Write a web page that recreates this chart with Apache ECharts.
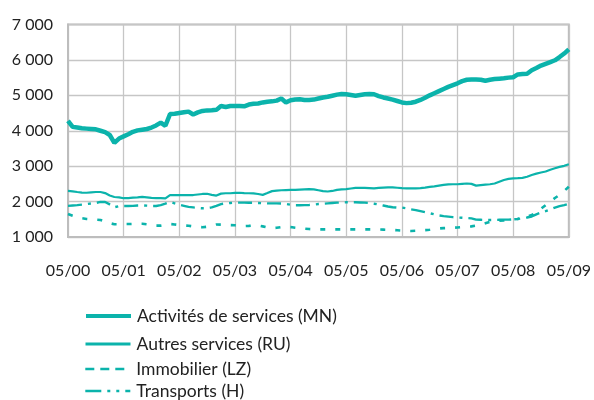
<!DOCTYPE html>
<html>
<head>
<meta charset="utf-8">
<script src="https://cdn.jsdelivr.net/npm/echarts@6/dist/echarts.min.js"></script>
<style>
  html, body { margin: 0; padding: 0; background: #fff; }
  #chart { width: 594px; height: 400px; }
</style>
</head>
<body>
<div id="chart"></div>
<script>
// Monthly observations, May 2000 to May 2009
const startYear = 2000, startMonth = 5, monthCount = 109;
const months = [];
for (let i = 0; i < monthCount; i++) {
  const m = (startMonth - 1 + i) % 12 + 1;
  const y = startYear + Math.floor((startMonth - 1 + i) / 12);
  months.push(String(m).padStart(2, '0') + '/' + String(y % 100).padStart(2, '0'));
}
const tickLabels = ['05/00','05/01','05/02','05/03','05/04','05/05','05/06','05/07','05/08','05/09'];

const seriesNames = [
  'Activités de services (MN)',
  'Autres services (RU)',
  'Immobilier (LZ)',
  'Transports (H)'
];

const activitesServices = [
  4280,4110,4090,4070,4060,4050,4040,4000,3960,3880,3660,3780,
  3840,3900,3970,4010,4030,4050,4090,4150,4230,4140,4470,4480,
  4500,4520,4540,4460,4520,4560,4575,4580,4590,4700,4670,4700,
  4700,4700,4690,4740,4760,4770,4800,4820,4830,4850,4910,4800,
  4860,4880,4890,4870,4870,4880,4910,4940,4960,4990,5020,5040,
  5030,5010,4990,5010,5030,5040,5030,4980,4940,4910,4880,4840,
  4800,4780,4790,4820,4870,4930,5000,5060,5120,5180,5240,5290,
  5340,5400,5440,5450,5450,5440,5410,5440,5460,5470,5480,5500,
  5510,5590,5600,5610,5710,5770,5840,5890,5940,5990,6080,6180,
  6300
];

const autresServices = [
  2300,2290,2270,2255,2250,2260,2270,2270,2240,2170,2130,2120,
  2095,2100,2110,2120,2135,2120,2105,2095,2100,2090,2185,2180,
  2180,2185,2185,2185,2200,2215,2220,2190,2170,2225,2235,2235,
  2245,2250,2240,2235,2230,2215,2190,2240,2295,2310,2320,2325,
  2330,2330,2340,2345,2350,2345,2320,2295,2285,2300,2330,2345,
  2350,2370,2385,2390,2385,2380,2375,2385,2395,2400,2400,2390,
  2380,2375,2375,2375,2380,2395,2415,2430,2450,2470,2485,2490,
  2490,2500,2510,2500,2450,2465,2480,2490,2510,2560,2610,2640,
  2655,2660,2670,2700,2750,2790,2820,2850,2900,2940,2980,3010,
  3055
];

const immobilier = [
  1650,1600,1560,1530,1510,1500,1490,1480,1440,1390,1360,1360,
  1365,1365,1370,1375,1375,1360,1340,1320,1320,1340,1365,1355,
  1340,1325,1318,1300,1285,1275,1290,1330,1355,1350,1340,1335,
  1330,1320,1310,1315,1325,1325,1300,1270,1250,1260,1280,1290,
  1280,1260,1245,1235,1225,1218,1215,1215,1216,1216,1216,1216,
  1216,1216,1216,1216,1215,1215,1215,1212,1208,1204,1198,1190,
  1182,1175,1170,1175,1185,1195,1205,1220,1240,1250,1255,1260,
  1270,1280,1290,1300,1320,1350,1390,1430,1450,1460,1470,1490,
  1500,1510,1540,1580,1620,1700,1800,1900,2000,2100,2190,2300,
  2420
];

const transports = [
  1880,1890,1900,1915,1930,1945,1960,1990,1990,1920,1840,1870,
  1875,1875,1880,1890,1895,1885,1875,1875,1900,1940,1990,1950,
  1910,1880,1850,1835,1820,1810,1815,1835,1880,1930,1950,1960,
  1970,1970,1970,1965,1965,1960,1955,1950,1950,1950,1945,1935,
  1910,1895,1895,1900,1905,1915,1930,1940,1950,1960,1970,1975,
  1980,1980,1980,1975,1970,1960,1940,1920,1890,1860,1840,1830,
  1830,1810,1780,1760,1730,1700,1670,1640,1610,1590,1575,1560,
  1550,1545,1535,1525,1490,1485,1480,1480,1480,1485,1490,1490,
  1500,1510,1530,1550,1580,1640,1690,1730,1780,1830,1870,1900,
  1940
];

const teal = '#0bb3ab';
const fontFamily = 'Lato, "Open Sans", sans-serif';
const isYearTick = (idx) => tickLabels.indexOf(months[idx]) !== -1;

const chart = echarts.init(document.getElementById('chart'), null, { renderer: 'canvas' });

function lineSeries(name, data, width, type) {
  return {
    name: name,
    type: 'line',
    data: data,
    showSymbol: false,
    symbol: 'none',
    smooth: false,
    lineStyle: { color: teal, width: width, type: type, cap: 'butt' },
    itemStyle: { color: teal },
    emphasis: { disabled: true },
    animation: false
  };
}

// One legend block per entry so each row sits at its own height
function legendAt(name, top, width, dash) {
  return {
    data: [name],
    left: 79,
    top: top,
    orient: 'vertical',
    itemWidth: 45,
    itemHeight: 12,
    selectedMode: false,
    itemStyle: { opacity: 0 },
    lineStyle: { color: teal, width: width, type: dash, cap: 'butt' },
    textStyle: { fontFamily: fontFamily, fontSize: 17.5, color: '#222', padding: [0, 0, 0, 1] }
  };
}

chart.setOption({
  backgroundColor: '#ffffff',
  animation: false,
  grid: {
    left: 68, right: 23, top: 24.5, bottom: 163,
    show: true, borderColor: '#bdbdbd', borderWidth: 2, backgroundColor: 'transparent'
  },
  legend: [
    legendAt(seriesNames[0], 302, 4, 'solid'),
    legendAt(seriesNames[1], 330, 3, 'solid'),
    legendAt(seriesNames[2], 355, 2.6, [9, 6]),
    legendAt(seriesNames[3], 377, 2.6, [16, 6, 3, 6, 3, 6])
  ],
  xAxis: {
    type: 'category',
    data: months,
    boundaryGap: false,
    axisLine: { show: true, lineStyle: { color: '#bdbdbd', width: 2 } },
    axisTick: { show: false },
    axisLabel: {
      interval: (idx) => isYearTick(idx),
      margin: 26,
      fontFamily: fontFamily,
      fontSize: 16,
      color: '#222'
    },
    splitLine: {
      show: true,
      interval: (idx) => isYearTick(idx),
      lineStyle: { color: '#c6c6c6', width: 1.3 }
    }
  },
  yAxis: {
    type: 'value',
    min: 1000,
    max: 7000,
    interval: 1000,
    axisLine: { show: true, lineStyle: { color: '#bdbdbd', width: 2 } },
    axisTick: { show: false },
    axisLabel: {
      margin: 15,
      fontFamily: fontFamily,
      fontSize: 16,
      color: '#222',
      formatter: (v) => String(v).replace(/\B(?=(\d{3})+(?!\d))/g, ' ')
    },
    splitLine: { show: true, lineStyle: { color: '#c6c6c6', width: 1.3 } }
  },
  series: [
    lineSeries(seriesNames[0], activitesServices, 4.5, 'solid'),
    lineSeries(seriesNames[1], autresServices, 2.2, 'solid'),
    lineSeries(seriesNames[2], immobilier, 2.6, [5, 10]),
    lineSeries(seriesNames[3], transports, 2.4, [14, 6, 3, 6])
  ]
});
</script>
</body>
</html>
